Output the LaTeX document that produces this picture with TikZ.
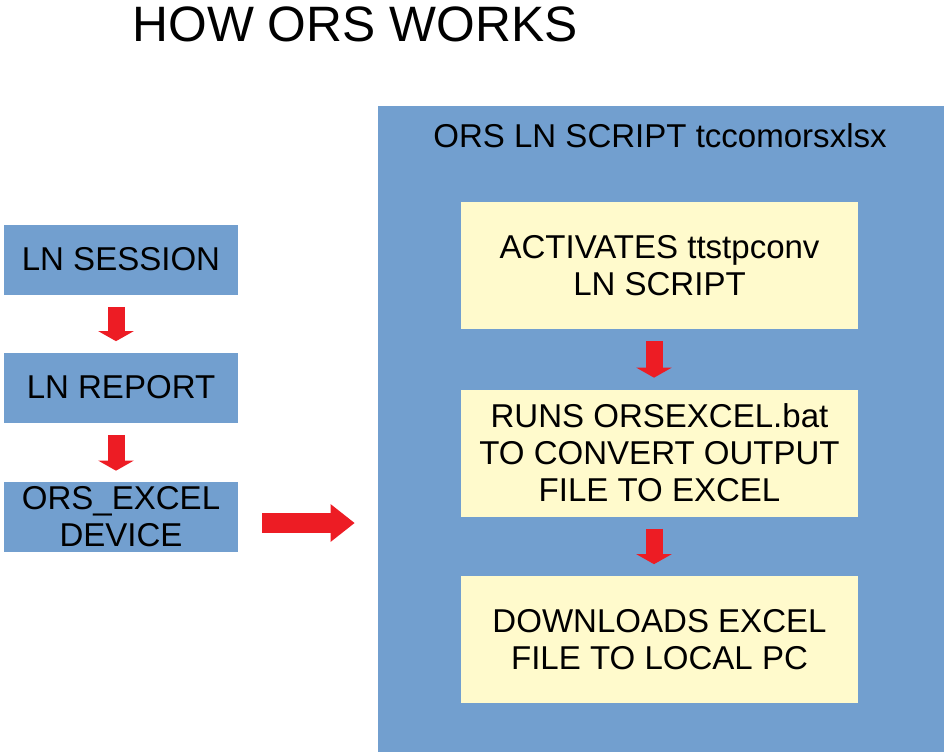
\documentclass[tikz,border=0pt]{standalone}
\usepackage{fontspec}
\setmainfont{Liberation Sans}
\usetikzlibrary{arrows.meta}
\definecolor{boxblue}{HTML}{729FCF}
\definecolor{boxyellow}{HTML}{FFFACC}
\definecolor{arrowred}{HTML}{ED1C24}
\tikzset{
	bluebox/.style={fill=boxblue, inner sep=0pt, align=center, minimum width=4.68cm, minimum height=1.4cm},
	yellowbox/.style={fill=boxyellow, inner sep=0pt, align=center, minimum width=7.94cm, minimum height=2.54cm},
	blockarrow/.style={draw=arrowred, line width=0.36cm, -{Triangle[width=0.7cm, length=0.2cm, fill=arrowred]}, shorten <=0.24cm, shorten >=0.23cm},
	boxtext/.style={font=\fontsize{18.8pt}{21pt}\selectfont}
}
\begin{document}
\begin{tikzpicture}[x=0.02cm, y=-0.02cm]
	\useasboundingbox (0,0) rectangle (945,755);
	\node[font=\fontsize{28.3pt}{32pt}\selectfont] (title) at (355,24) {HOW ORS WORKS};
	\node[bluebox, boxtext] (session) at (121,259.5) {LN SESSION};
	\node[bluebox, boxtext] (report) at (121,387.5) {LN REPORT};
	\node[bluebox, boxtext] (device) at (121,517) {ORS\_EXCEL\\DEVICE};
	\node[fill=boxblue, minimum width=11.32cm, minimum height=12.92cm, inner sep=0pt] (script) at (661,429) {};
	\node[boxtext] (scripttitle) at (660,136) {ORS LN SCRIPT tccomorsxlsx};
	\node[yellowbox, boxtext] (activate) at (659.5,265.5) {ACTIVATES ttstpconv\\LN SCRIPT};
	\node[yellowbox, boxtext] (convert) at (659.5,453) {RUNS ORSEXCEL.bat\\TO CONVERT OUTPUT\\FILE TO EXCEL};
	\node[yellowbox, boxtext] (download) at (659.5,639.5) {DOWNLOADS EXCEL\\FILE TO LOCAL PC};
	\draw[blockarrow, line width=0.34cm, shorten >=0.22cm] (session.south -| 116,0) -- (report.north -| 116,0);
	\draw[blockarrow, line width=0.34cm, shorten >=0.22cm] (report.south -| 116,0) -- (device.north -| 116,0);
	\draw[blockarrow, line width=0.4cm, -{Triangle[width=0.72cm, length=0.48cm, fill=arrowred]}, shorten <=0.48cm, shorten >=0.46cm] ([yshift=-0.12cm]device.east) -- ([yshift=-0.12cm]device.east -| script.west);
	\draw[blockarrow, line width=0.34cm] (activate.south -| 654,0) -- (convert.north -| 654,0);
	\draw[blockarrow, line width=0.34cm] (convert.south -| 654,0) -- (download.north -| 654,0);
\end{tikzpicture}
\end{document}
